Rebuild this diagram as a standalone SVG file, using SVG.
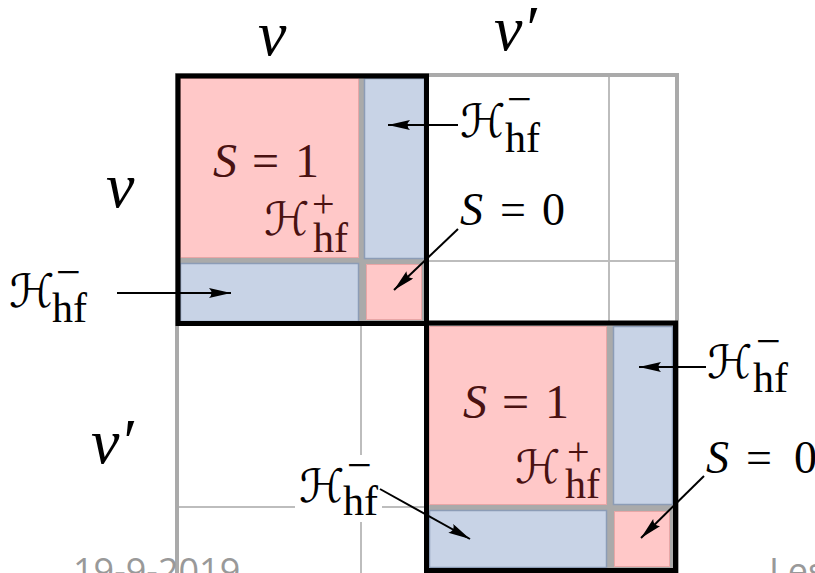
<svg xmlns="http://www.w3.org/2000/svg" width="815" height="573" viewBox="0 0 815 573">
<defs>
<marker id="ah" markerUnits="userSpaceOnUse" markerWidth="24" markerHeight="12" refX="22" refY="5" orient="auto">
<path d="M0,0 L22,5 L0,10 Q5,5 0,0 Z" fill="#000"/>
</marker>
</defs>
<rect width="815" height="573" fill="#fff"/>
<g id="grid" stroke="#bdbdbd" stroke-width="2" fill="none">
<line x1="609" y1="75" x2="609" y2="323"/>
<line x1="426" y1="261" x2="677" y2="261"/>
<line x1="361" y1="323" x2="361" y2="573"/>
<line x1="177" y1="507" x2="426" y2="507"/>
<rect x="177" y="75" width="500" height="510" stroke="#aaa" stroke-width="4"/>
</g>
<g id="block1">
<rect x="178" y="76" width="248" height="247" fill="#aaa"/>
<rect x="180.5" y="78.5" width="178" height="179" fill="#ffc8c8" stroke="#e8a6a6"/>
<rect x="364.5" y="78.5" width="60" height="180" fill="#c8d3e6" stroke="#8c9cb6" stroke-width="1.5"/>
<rect x="180.5" y="263.5" width="178" height="58" fill="#c8d3e6" stroke="#8c9cb6" stroke-width="1.5"/>
<rect x="366.5" y="264.5" width="55" height="55" fill="#ffc8c8" stroke="#e8a6a6"/>
<rect x="178" y="76" width="248.5" height="247.5" fill="none" stroke="#000" stroke-width="5"/>
<text x="213" y="177" fill="#4a1212" font-size="48" font-family="Liberation Serif" style="font-family:'Liberation Serif',serif;font-style:italic">S</text>
<text x="252" y="177" fill="#4a1212" font-size="48" font-family="Liberation Serif" style="font-family:'Liberation Serif',serif">=</text>
<text x="295" y="177" fill="#4a1212" font-size="48" font-family="Liberation Serif" style="font-family:'Liberation Serif',serif">1</text>
<text x="264" y="235" fill="#4a1212" font-size="46" font-family="DejaVu Sans" style="font-family:'DejaVu Sans',sans-serif;font-style:italic">ℋ</text>
<text x="312" y="217" fill="#4a1212" font-size="40" font-family="Liberation Serif" style="font-family:'Liberation Serif',serif">+</text>
<text x="313" y="252" fill="#4a1212" font-size="42" font-family="Liberation Serif" style="font-family:'Liberation Serif',serif">hf</text>
</g>
<g id="block2">
<rect x="426.5" y="323" width="249" height="247.5" fill="#aaa"/>
<rect x="429.5" y="326.5" width="177" height="178" fill="#ffc8c8" stroke="#e8a6a6"/>
<rect x="613.5" y="326.5" width="59" height="178" fill="#c8d3e6" stroke="#8c9cb6" stroke-width="1.5"/>
<rect x="429.5" y="510.5" width="177" height="57" fill="#c8d3e6" stroke="#8c9cb6" stroke-width="1.5"/>
<rect x="614.5" y="511.5" width="55" height="55" fill="#ffc8c8" stroke="#e8a6a6"/>
<rect x="426.5" y="323" width="249" height="247.5" fill="none" stroke="#000" stroke-width="5"/>
<text x="463" y="418" fill="#4a1212" font-size="48" font-family="Liberation Serif" style="font-family:'Liberation Serif',serif;font-style:italic">S</text>
<text x="502" y="418" fill="#4a1212" font-size="48" font-family="Liberation Serif" style="font-family:'Liberation Serif',serif">=</text>
<text x="545" y="418" fill="#4a1212" font-size="48" font-family="Liberation Serif" style="font-family:'Liberation Serif',serif">1</text>
<text x="515" y="483" fill="#4a1212" font-size="46" font-family="DejaVu Sans" style="font-family:'DejaVu Sans',sans-serif;font-style:italic">ℋ</text>
<text x="567" y="465" fill="#4a1212" font-size="40" font-family="Liberation Serif" style="font-family:'Liberation Serif',serif">+</text>
<text x="565" y="498" fill="#4a1212" font-size="42" font-family="Liberation Serif" style="font-family:'Liberation Serif',serif">hf</text>
</g>
<g id="label-v-top"><text x="258" y="55" font-size="64" font-family="Liberation Serif" style="font-family:'Liberation Serif',serif;font-style:italic">v</text></g>
<g id="label-vp-top"><text x="494" y="50" font-size="64" font-family="Liberation Serif" style="font-family:'Liberation Serif',serif;font-style:italic">v′</text></g>
<g id="label-v-left"><text x="106" y="207" font-size="64" font-family="Liberation Serif" style="font-family:'Liberation Serif',serif;font-style:italic">v</text></g>
<g id="label-vp-left"><text x="91" y="463" font-size="64" font-family="Liberation Serif" style="font-family:'Liberation Serif',serif;font-style:italic">v′</text></g>
<g id="label-H1">
<text x="460" y="137" font-size="46" font-family="DejaVu Sans" style="font-family:'DejaVu Sans',sans-serif;font-style:italic">ℋ</text>
<text x="507" y="114" font-size="44" font-family="Liberation Serif" style="font-family:'Liberation Serif',serif">−</text>
<text x="505" y="152" font-size="42" font-family="Liberation Serif" style="font-family:'Liberation Serif',serif">hf</text>
</g>
<g id="label-S0-1">
<text x="460" y="225" font-size="46" font-family="Liberation Serif" style="font-family:'Liberation Serif',serif;font-style:italic">S</text>
<text x="500" y="225" font-size="46" font-family="Liberation Serif" style="font-family:'Liberation Serif',serif">=</text>
<text x="542" y="225" font-size="46" font-family="Liberation Serif" style="font-family:'Liberation Serif',serif">0</text>
</g>
<g id="label-H2">
<text x="9" y="307" font-size="46" font-family="DejaVu Sans" style="font-family:'DejaVu Sans',sans-serif;font-style:italic">ℋ</text>
<text x="56" y="287" font-size="44" font-family="Liberation Serif" style="font-family:'Liberation Serif',serif">−</text>
<text x="52" y="322" font-size="42" font-family="Liberation Serif" style="font-family:'Liberation Serif',serif">hf</text>
</g>
<g id="label-H3">
<text x="707" y="378" font-size="46" font-family="DejaVu Sans" style="font-family:'DejaVu Sans',sans-serif;font-style:italic">ℋ</text>
<text x="756" y="356" font-size="44" font-family="Liberation Serif" style="font-family:'Liberation Serif',serif">−</text>
<text x="753" y="392" font-size="42" font-family="Liberation Serif" style="font-family:'Liberation Serif',serif">hf</text>
</g>
<g id="label-S0-2">
<text x="706" y="473" font-size="46" font-family="Liberation Serif" style="font-family:'Liberation Serif',serif;font-style:italic">S</text>
<text x="746" y="473" font-size="46" font-family="Liberation Serif" style="font-family:'Liberation Serif',serif">=</text>
<text x="794" y="473" font-size="46" font-family="Liberation Serif" style="font-family:'Liberation Serif',serif">0</text>
</g>
<g id="label-H4">
<rect x="295" y="455" width="87" height="67" fill="#fff"/>
<text x="299" y="502" font-size="46" font-family="DejaVu Sans" style="font-family:'DejaVu Sans',sans-serif;font-style:italic">ℋ</text>
<text x="347" y="480" font-size="44" font-family="Liberation Serif" style="font-family:'Liberation Serif',serif">−</text>
<text x="343" y="515" font-size="42" font-family="Liberation Serif" style="font-family:'Liberation Serif',serif">hf</text>
</g>
<g id="connectors" stroke="#000" stroke-width="2" fill="none">
<line x1="458" y1="125" x2="388" y2="125" marker-end="url(#ah)"/>
<line x1="458" y1="229" x2="394" y2="290" marker-end="url(#ah)"/>
<line x1="117" y1="293" x2="231" y2="293" marker-end="url(#ah)"/>
<line x1="706" y1="367" x2="639" y2="367" marker-end="url(#ah)"/>
<line x1="704" y1="476" x2="641" y2="538" marker-end="url(#ah)"/>
<line x1="380" y1="489" x2="470" y2="539" marker-end="url(#ah)"/>
</g>
<g id="footer">
<text x="73" y="584" font-family="Open Sans" font-size="36" fill="#999">19-9-2019</text>
<text x="769" y="584" font-family="Open Sans" font-size="36" fill="#999">Les</text>
</g>
</svg>
